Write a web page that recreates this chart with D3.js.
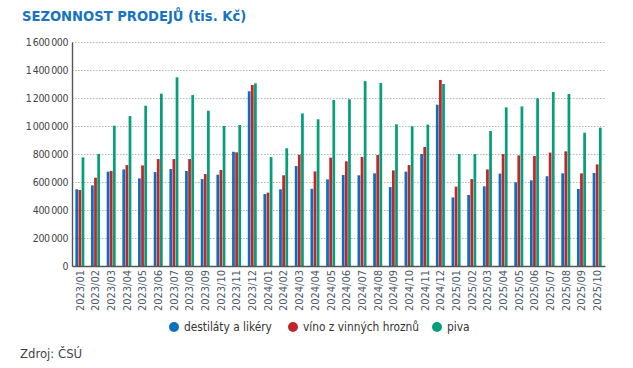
<!DOCTYPE html>
<html>
<head>
<meta charset="utf-8">
<script src="https://cdn.jsdelivr.net/npm/d3@7"></script>
<style>
  body { margin: 0; background: #fff; }
  svg text { font-family: "DejaVu Sans Condensed", "DejaVu Sans", sans-serif; }
</style>
</head>
<body>
<div id="chart"></div>
<script>
var months = ["2023/01","2023/02","2023/03","2023/04","2023/05","2023/06","2023/07","2023/08","2023/09","2023/10","2023/11","2023/12",
  "2024/01","2024/02","2024/03","2024/04","2024/05","2024/06","2024/07","2024/08","2024/09","2024/10","2024/11","2024/12",
  "2025/01","2025/02","2025/03","2025/04","2025/05","2025/06","2025/07","2025/08","2025/09","2025/10"];

var destilaty = [548000,576000,674000,690000,626000,671000,693000,679000,621000,652000,816000,1248000,
  514000,548000,714000,552000,619000,650000,648000,662000,564000,674000,800000,1152000,
  490000,507000,569000,660000,598000,612000,641000,662000,550000,664000];

var vino = [543000,631000,679000,721000,719000,764000,764000,764000,657000,686000,812000,1293000,
  524000,648000,795000,676000,774000,748000,779000,793000,683000,721000,850000,1329000,
  567000,621000,690000,800000,790000,786000,810000,819000,662000,726000];

var piva = [776000,800000,1002000,1071000,1145000,1231000,1348000,1221000,1109000,1000000,1007000,1305000,
  778000,841000,1090000,1048000,1186000,1191000,1321000,1307000,1012000,998000,1010000,1300000,
  800000,800000,964000,1133000,1140000,1198000,1243000,1229000,952000,988000];

var seriesNames = ["destiláty a likéry", "víno z vinných hroznů", "piva"];
var seriesColors = ["#0b6fc1", "#c1262d", "#079f7a"];
var yTicks = [0,200000,400000,600000,800000,1000000,1200000,1400000,1600000];

var width = 633, height = 368;
var margin = {top: 42, right: 28, bottom: 102, left: 72};

var svg = d3.select("#chart").append("svg")
  .attr("width", width)
  .attr("height", height);

// title
svg.append("text")
  .attr("x", 22)
  .attr("y", 21)
  .attr("fill", "#1873c0")
  .attr("font-size", "14.6px")
  .attr("font-weight", "bold")
  .style("font-family", "'Liberation Sans Narrow', 'DejaVu Sans Condensed', sans-serif")
  .text("SEZONNOST PRODEJŮ (tis. Kč)");

var x = d3.scaleBand()
  .domain(months)
  .range([margin.left, width - margin.right]);

var x1 = d3.scaleBand()
  .domain(seriesNames)
  .range([0, 9])
  .paddingInner(0.12);

var y = d3.scaleLinear()
  .domain([0, 1600000])
  .range([height - margin.bottom, margin.top]);

var fmt = function(d) { return d3.format(",")(d).replace(/,/g, "\u2009"); };

// grid
svg.append("g")
  .selectAll("line")
  .data(yTicks.slice(1))
  .enter().append("line")
  .attr("x1", margin.left)
  .attr("x2", width - margin.right)
  .attr("y1", function(d) { return y(d) + 0.5; })
  .attr("y2", function(d) { return y(d) + 0.5; })
  .attr("stroke", "#b5b5b5")
  .attr("stroke-width", 1)
  .attr("stroke-dasharray", "1.5,1.5");

var rows = months.map(function(m, i) {
  return {month: m, values: [destilaty[i], vino[i], piva[i]]};
});

var groups = svg.append("g")
  .selectAll("g")
  .data(rows)
  .enter().append("g")
  .attr("transform", function(d) {
    return "translate(" + (x(d.month) + x.bandwidth() / 2 - 4.5) + ",0)";
  });

groups.selectAll("rect")
  .data(function(d) {
    return d.values.map(function(v, k) { return {name: seriesNames[k], value: v, k: k}; });
  })
  .enter().append("rect")
  .attr("x", function(d) { return x1(d.name); })
  .attr("width", x1.bandwidth())
  .attr("y", function(d) { return y(d.value); })
  .attr("height", function(d) { return y(0) - y(d.value); })
  .attr("fill", function(d) { return seriesColors[d.k]; });

// y axis
var yAxis = svg.append("g")
  .attr("transform", "translate(" + margin.left + ",0)")
  .call(d3.axisLeft(y).tickValues(yTicks).tickSize(0).tickPadding(4).tickFormat(fmt));
yAxis.select(".domain").attr("stroke", "#555").attr("stroke-width", 1.4);
yAxis.selectAll("text")
  .attr("fill", "#444")
  .attr("font-size", "10.5px")
  .attr("letter-spacing", "-0.4px")
  .style("font-family", "'DejaVu Sans Condensed', sans-serif");

// x axis
var xAxis = svg.append("g")
  .attr("transform", "translate(0," + y(0) + ")")
  .call(d3.axisBottom(x).tickSize(0).tickPadding(0));
xAxis.select(".domain").attr("stroke", "#555").attr("stroke-width", 1.4);
xAxis.selectAll("text")
  .attr("fill", "#4a5a6a")
  .attr("font-size", "11px")
  .attr("transform", "rotate(-90)")
  .attr("text-anchor", "end")
  .attr("dy", "0.35em")
  .attr("x", -4)
  .attr("y", 0);

// legend
var legendX = [174, 293, 437];
var legend = svg.append("g")
  .selectAll("g")
  .data(seriesNames)
  .enter().append("g")
  .attr("transform", function(d, i) { return "translate(" + legendX[i] + ",327)"; });
legend.append("circle")
  .attr("r", 5)
  .attr("fill", function(d, i) { return seriesColors[i]; });
legend.append("text")
  .attr("x", 10)
  .attr("dy", "0.35em")
  .attr("font-size", "11.8px")
  .attr("fill", "#333")
  .style("font-family", "'Liberation Sans Narrow', 'DejaVu Sans Condensed', sans-serif")
  .text(function(d) { return d; });

// source
svg.append("text")
  .attr("x", 20)
  .attr("y", 358)
  .attr("font-size", "13px")
  .attr("fill", "#444")
  .text("Zdroj: ČSÚ");
</script>
</body>
</html>
